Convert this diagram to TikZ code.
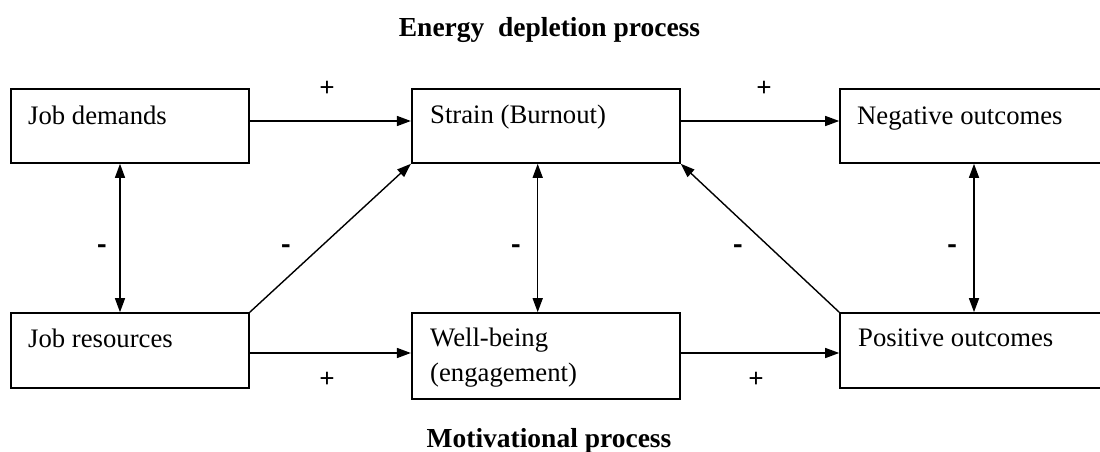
\documentclass[tikz,border=0pt]{standalone}
\usepackage{fontspec}
\setmainfont{Liberation Serif}
\usetikzlibrary{arrows.meta}
\begin{document}
\begin{tikzpicture}[x=1pt,y=-1pt,
  box/.style={draw,line width=1.6pt,rectangle,inner sep=0pt},
  txt/.style={inner sep=0pt,anchor=base west,font=\fontsize{26.7}{32}\selectfont},
  ttl/.style={inner sep=0pt,anchor=base,font=\fontsize{27.5}{32}\selectfont\bfseries},
  sgn/.style={inner sep=0pt,font=\fontsize{22}{24}\selectfont\bfseries},
  pls/.style={inner sep=0pt,font=\fontsize{27}{28}\selectfont\bfseries},
  arr/.style={line width=1.4pt,-{Triangle[length=14pt,width=10pt]}},
  darr/.style={line width=1.4pt,{Triangle[length=14pt,width=10pt]}-{Triangle[length=14pt,width=10pt]}}]
\useasboundingbox (0,0) rectangle (1100,452);
% boxes
\node[box,minimum width=238.3pt,minimum height=74pt] (jd) at (129.85,126) {};
\node[box,minimum width=268.3pt,minimum height=74pt] (st) at (545.85,126) {};
\node[box,minimum width=264pt,minimum height=74pt] (ng) at (972,126) {};
\node[box,minimum width=238.3pt,minimum height=75pt] (jr) at (129.85,350.5) {};
\node[box,minimum width=268.3pt,minimum height=86pt] (wb) at (545.85,356) {};
\node[box,minimum width=264pt,minimum height=75pt] (po) at (972,350.5) {};
% texts
\node[txt] (tjd) at (28,124) {Job demands};
\node[txt] (tst) at (430,123) {Strain (Burnout)};
\node[txt] (tng) at (857,124) {Negative outcomes};
\node[txt] (tjr) at (28,347) {Job resources};
\node[txt] (twb) at (430,346) {Well-being};
\node[txt] (twb2) at (430,381) {(engagement)};
\node[txt] (tpo) at (858,346) {Positive outcomes};
% titles
\node[ttl] (t1) at (549.5,37) {Energy\ \ depletion process};
\node[ttl] (t2) at (549,447) {Motivational process};
% arrows
\draw[arr] (jd.east |- 0,121) -- (st.west |- 0,121);
\draw[arr] (st.east |- 0,121) -- (ng.west |- 0,121);
\draw[arr] (jr.east |- 0,353) -- (wb.west |- 0,353);
\draw[arr] (wb.east |- 0,353) -- (po.west |- 0,353);
\draw[darr] (jd.south -| 120,0) -- (jr.north -| 120,0);
\draw[darr] (st.south -| 537.7,0) -- (wb.north -| 537.7,0);
\draw[darr] (ng.south -| 974,0) -- (po.north -| 974,0);
\draw[arr] (jr.north east) -- (st.south west);
\draw[arr] (po.north west) -- (st.south east);
% signs
\node[pls] (p1) at (327,89) {+};
\node[pls] (p2) at (764,89) {+};
\node[pls] (p3) at (327,380) {+};
\node[pls] (p4) at (756,380) {+};
\node[sgn] (m1) at (102,250) {\scalebox{1.3}[1.6]{-}};
\node[sgn] (m2) at (286,250) {\scalebox{1.3}[1.6]{-}};
\node[sgn] (m3) at (516,250) {\scalebox{1.3}[1.6]{-}};
\node[sgn] (m4) at (738,250) {\scalebox{1.3}[1.6]{-}};
\node[sgn] (m5) at (952,250) {\scalebox{1.3}[1.6]{-}};
\end{tikzpicture}
\end{document}
